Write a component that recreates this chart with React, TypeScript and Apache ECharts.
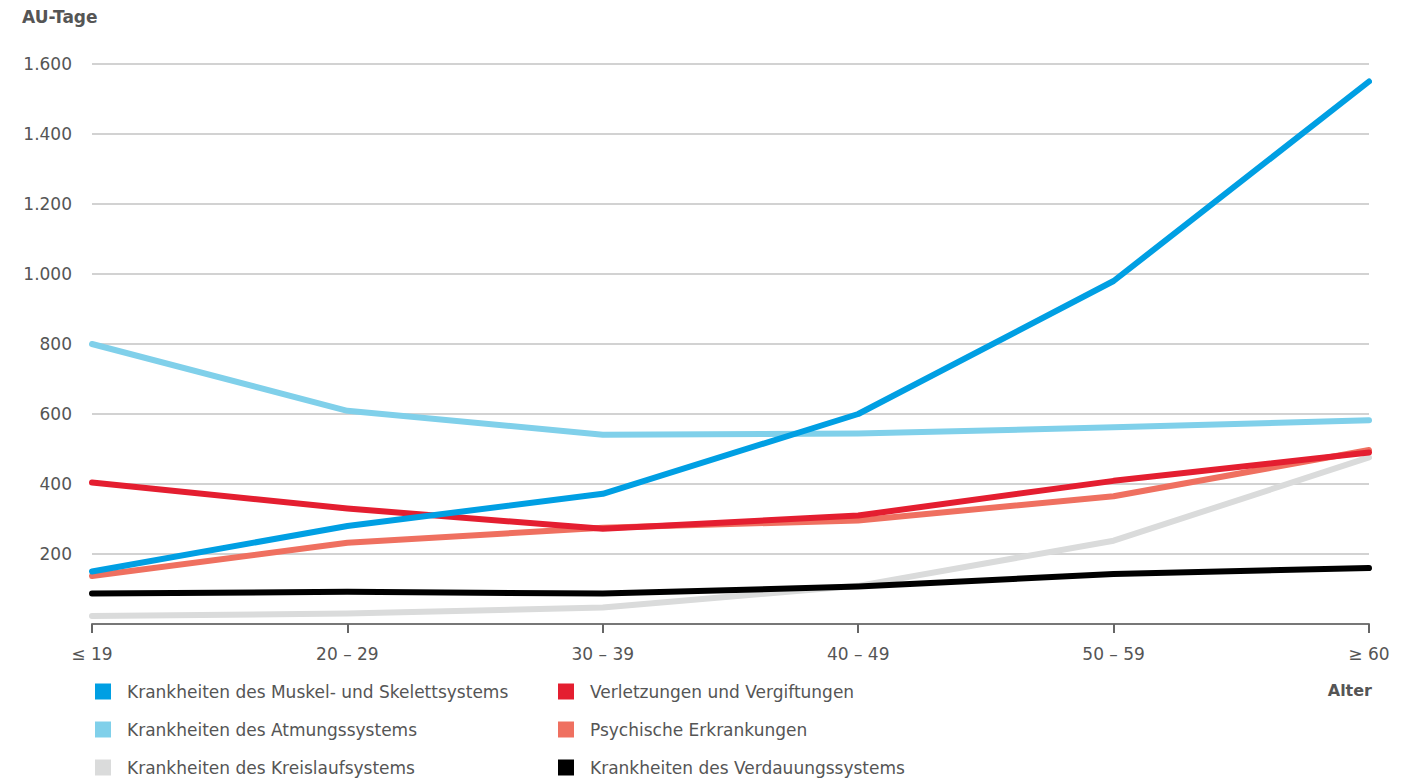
import React, { useEffect, useRef } from "react";
import * as echarts from "echarts";

// Altersgruppen (x-Achse)
const ageGroups = ["≤ 19", "20 – 29", "30 – 39", "40 – 49", "50 – 59", "≥ 60"];

// AU-Tage je Altersgruppe und Diagnosegruppe
const muskel = [150, 280, 372, 600, 980, 1550];
const atmung = [800, 609, 541, 544, 562, 582];
const kreislauf = [23, 30, 47, 109, 238, 476];
const verletzungen = [404, 330, 272, 310, 409, 490];
const psychische = [137, 232, 275, 296, 365, 497];
const verdauung = [87, 92, 87, 107, 143, 160];

const yTicks = [0, 200, 400, 600, 800, 1000, 1200, 1400, 1600];

const names = {
  muskel: "Krankheiten des Muskel- und Skelettsystems",
  atmung: "Krankheiten des Atmungssystems",
  kreislauf: "Krankheiten des Kreislaufsystems",
  verletzungen: "Verletzungen und Vergiftungen",
  psychische: "Psychische Erkrankungen",
  verdauung: "Krankheiten des Verdauungssystems",
};

const colors = {
  muskel: "#009fe3",
  atmung: "#80d0ea",
  kreislauf: "#dadbdb",
  verletzungen: "#e41e30",
  psychische: "#ef7060",
  verdauung: "#000000",
};

const FONT = "DejaVu Sans";
const TEXT = "#555555";

function formatThousands(v: number): string {
  return String(v).replace(/\B(?=(\d{3})+(?!\d))/g, ".");
}

function lineSeries(key: keyof typeof names, data: number[]) {
  return {
    type: "line",
    name: names[key],
    data,
    color: colors[key],
    symbol: "none",
    lineStyle: { width: 6, color: colors[key], cap: "round", join: "round" },
    emphasis: { disabled: true },
  };
}

export default function App() {
  const ref = useRef<HTMLDivElement>(null);

  useEffect(() => {
    document.body.style.margin = "0";
    if (!ref.current) return;
    const chart = echarts.init(ref.current, null, { renderer: "svg" });
    const legendCommon = {
      orient: "vertical",
      top: 678,
      height: 110,
      icon: "rect",
      itemWidth: 16,
      itemHeight: 16,
      itemGap: 21,
      selectedMode: false,
      textStyle: {
        fontFamily: FONT,
        fontSize: 17,
        color: TEXT,
        padding: [0, 0, 0, 11],
      },
    };
    chart.setOption({
      animation: false,
      textStyle: { fontFamily: FONT },
      grid: { left: 92, right: 39, top: 64, bottom: 156, containLabel: false },
      xAxis: {
        type: "category",
        data: ageGroups,
        boundaryGap: false,
        axisLine: { lineStyle: { color: "#777777", width: 2 } },
        axisTick: { show: true, length: 9, lineStyle: { color: "#666666", width: 2 } },
        axisLabel: { color: TEXT, fontSize: 17, fontFamily: FONT, margin: 21 },
        splitLine: { show: false },
      },
      yAxis: {
        type: "value",
        min: yTicks[0],
        max: yTicks[yTicks.length - 1],
        interval: 200,
        axisLine: { show: false },
        axisTick: { show: false },
        axisLabel: {
          color: TEXT,
          fontSize: 17,
          fontFamily: FONT,
          margin: 20,
          formatter: (v: number) => (v === 0 ? "" : formatThousands(v)),
        },
        splitLine: {
          show: true,
          lineStyle: { color: "#d2d2d2", width: 2 },
        },
      },
      legend: [
        {
          ...legendCommon,
          left: 90,
          data: [names.muskel, names.atmung, names.kreislauf],
        },
        {
          ...legendCommon,
          left: 553,
          data: [names.verletzungen, names.psychische, names.verdauung],
        },
      ],
      graphic: [
        {
          type: "text",
          left: 22,
          top: 8,
          style: { text: "AU-Tage", font: `bold 17px "${FONT}"`, fill: TEXT },
        },
        {
          type: "text",
          right: 36,
          top: 682,
          style: { text: "Alter", font: `bold 16px "${FONT}"`, fill: TEXT },
        },
      ],
      series: [
        lineSeries("atmung", atmung),
        lineSeries("kreislauf", kreislauf),
        lineSeries("verdauung", verdauung),
        lineSeries("psychische", psychische),
        lineSeries("verletzungen", verletzungen),
        lineSeries("muskel", muskel),
      ],
    });
    return () => chart.dispose();
  }, []);

  return <div ref={ref} style={{ width: 1408, height: 780 }} />;
}
